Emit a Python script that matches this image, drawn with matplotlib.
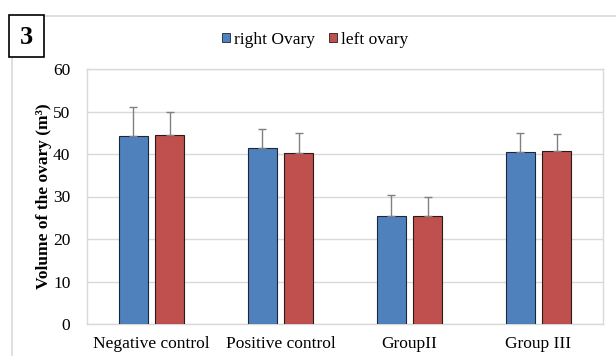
import matplotlib
matplotlib.use("Agg")
import matplotlib.pyplot as plt
import numpy as np
from matplotlib.patches import Rectangle
from matplotlib.lines import Line2D

plt.rcParams['font.family'] = ['Liberation Serif', 'DejaVu Serif']

categories = ["Negative control", "Positive control", "GroupII", "Group III"]
right_ovary = [44.2, 41.5, 25.3, 40.4]
right_err = [6.9, 4.3, 5.0, 4.5]
left_ovary = [44.4, 40.2, 25.3, 40.6]
left_err = [5.6, 4.7, 4.7, 4.0]
series_names = ["right Ovary", "left ovary"]
yticks = [0, 10, 20, 30, 40, 50, 60]

blue = "#4F81BD"
red = "#C0504D"
grid_c = "#D9D9D9"

fig = plt.figure(figsize=(6.16, 3.56), dpi=100)
ax = fig.add_axes([87 / 616, 1 - 324 / 356, 516 / 616, 255 / 356])

x = np.arange(len(categories))
w = 0.225
off = 0.143
err_kw = dict(ecolor="#808080", elinewidth=1.0, capsize=3, capthick=1.0)
ax.bar(x - off, right_ovary, w, color=blue, edgecolor="#1c2838", linewidth=0.8,
       yerr=[np.zeros(4), right_err], error_kw=err_kw, zorder=3, label=series_names[0])
ax.bar(x + off, left_ovary, w, color=red, edgecolor="#2b1a1a", linewidth=0.8,
       yerr=[np.zeros(4), left_err], error_kw=err_kw, zorder=3, label=series_names[1])

ax.set_xlim(-0.5, len(categories) - 0.5)
ax.set_ylim(0, 60)
ax.set_yticks(yticks)
ax.yaxis.grid(True, color=grid_c, linewidth=1.0, zorder=0)
ax.set_axisbelow(True)
for s in ax.spines.values():
    s.set_color(grid_c)
    s.set_linewidth(1.0)
ax.tick_params(axis="both", length=0, labelsize=12.5, colors="black")
ax.tick_params(axis="y", pad=12)
ax.tick_params(axis="x", pad=8.5)
ax.set_xticks(x)
ax.set_xticklabels(categories, fontsize=12.5)
ax.set_ylabel("Volume of the ovary (m\u00b3)", fontsize=12.5, fontweight="bold", labelpad=1)

# legend
handles = [Rectangle((0, 0), 1, 1, facecolor=blue, edgecolor="#1c2838", linewidth=0.6),
           Rectangle((0, 0), 1, 1, facecolor=red, edgecolor="#2b1a1a", linewidth=0.6)]
fig.legend(handles, series_names, loc="center", bbox_to_anchor=(315 / 616, 1 - 40 / 356),
           ncol=2, frameon=False, fontsize=12.5, handlelength=0.45, handleheight=0.45,
           handletextpad=0.25, columnspacing=0.8)

# outer frame lines
fig.add_artist(Line2D([37 / 616, 1.0], [1 - 16 / 356] * 2, color=grid_c, linewidth=1.2,
                      transform=fig.transFigure, zorder=1))
fig.add_artist(Line2D([12 / 616] * 2, [1 - 57 / 356, 0], color=grid_c, linewidth=1.2,
                      transform=fig.transFigure, zorder=1))

# panel number box
fig.add_artist(Rectangle((9 / 616, 1 - 57 / 356), 35 / 616, 42 / 356, transform=fig.transFigure,
                         facecolor="white", edgecolor="black", linewidth=1.2, zorder=5))
fig.text(26.5 / 616, 1 - 37 / 356, "3", fontsize=19, fontweight="bold", ha="center", va="center",
         zorder=6)

fig.savefig("out.png", dpi=100)
